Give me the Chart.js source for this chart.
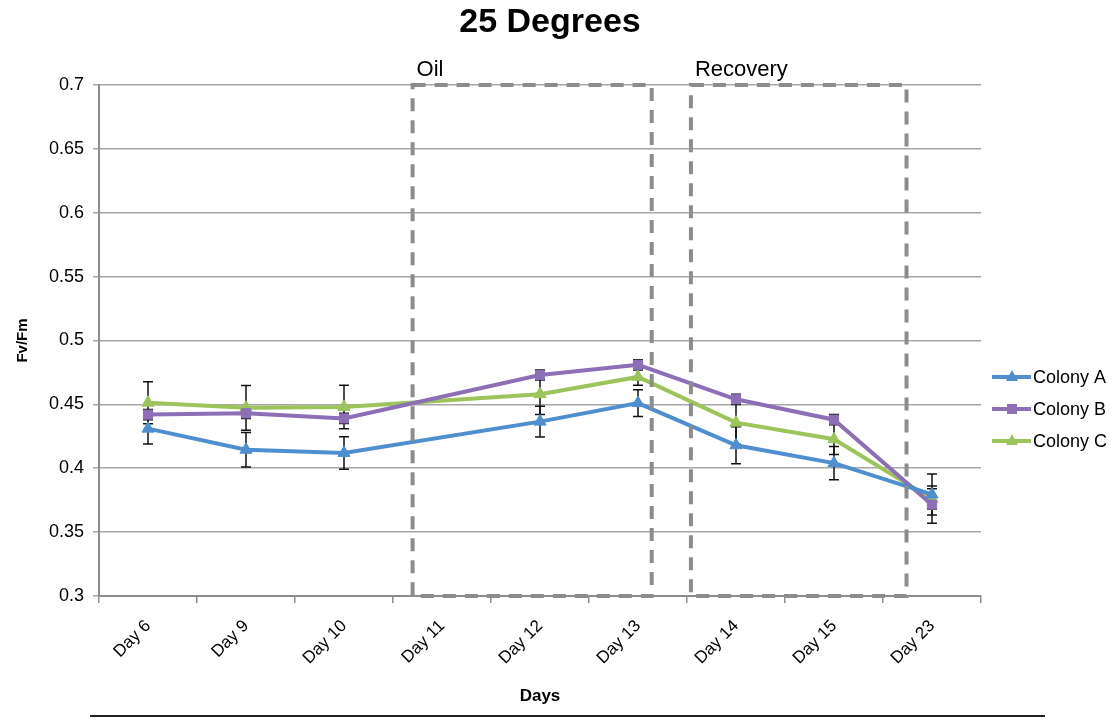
<!DOCTYPE html>
<html>
<head>
<meta charset="utf-8">
<title>25 Degrees</title>
<script src="https://cdn.jsdelivr.net/npm/chart.js@4/dist/chart.umd.min.js"></script>
<style>
  html, body { margin: 0; padding: 0; background: #fff; }
  #wrap { width: 1120px; height: 719px; }
</style>
</head>
<body>
<div id="wrap"><canvas id="fvChart" width="1120" height="719"></canvas></div>
<script>
// data
const days = ['Day 6', 'Day 9', 'Day 10', 'Day 11', 'Day 12', 'Day 13', 'Day 14', 'Day 15', 'Day 23']
const colonyA = [0.431, 0.4145, 0.412, null, 0.4365, 0.451, 0.418, 0.404, 0.3795]
const colonyB = [0.442, 0.443, 0.439, null, 0.473, 0.481, 0.454, 0.438, 0.3715]
const colonyC = [0.4513, 0.4473, 0.448, null, 0.458, 0.4715, 0.4357, 0.4227, 0.376]
const errA = [0.012, 0.0135, 0.0127, null, 0.012, 0.0105, 0.0145, 0.013, 0.016]
const errB = [0.004, 0.004, 0.004, null, 0.004, 0.004, 0.004, 0.004, 0.0146]
const errC = [0.0165, 0.0175, 0.017, null, 0.016, 0.0066, 0.017, 0.012, 0.008]
const yTicks = [0.3, 0.35, 0.4, 0.45, 0.5, 0.55, 0.6, 0.65, 0.7]
// dashed phase boxes, in category index units
const phases = [
    { label: 'Oil', from: 2.7, to: 5.14 },
    { label: 'Recovery', from: 5.54, to: 7.74 }
]

const FONT = "'Liberation Sans', Arial, sans-serif"

const series = [
    { label: 'Colony A', data: colonyA, err: errA, color: '#4f8fcf', style: 'triangle', radius: 7 },
    { label: 'Colony B', data: colonyB, err: errB, color: '#8d6fb5', style: 'rect', radius: 6.5 },
    { label: 'Colony C', data: colonyC, err: errC, color: '#9cc45b', style: 'triangle', radius: 7 }
]

// error bars, dashed boxes, title, legend
const decor = {
    id: 'decor',
    beforeDatasetsDraw(chart) {
        const ctx = chart.ctx
        const x = chart.scales.x
        const y = chart.scales.y
        ctx.save()
        ctx.strokeStyle = '#111'
        ctx.lineWidth = 1.5
        series.forEach(s => {
            s.data.forEach((v, i) => {
                if (v === null || s.err[i] === null) return
                const px = x.getPixelForValue(i)
                const top = y.getPixelForValue(v + s.err[i])
                const bot = y.getPixelForValue(v - s.err[i])
                ctx.beginPath()
                ctx.moveTo(px, top); ctx.lineTo(px, bot)
                ctx.moveTo(px - 5, top); ctx.lineTo(px + 5, top)
                ctx.moveTo(px - 5, bot); ctx.lineTo(px + 5, bot)
                ctx.stroke()
            })
        })
        ctx.restore()
    },
    afterDatasetsDraw(chart) {
        const ctx = chart.ctx
        const x = chart.scales.x
        const y = chart.scales.y
        ctx.save()
        ctx.strokeStyle = '#8c8c8c'
        ctx.lineWidth = 4
        ctx.setLineDash([13, 9])
        ctx.font = '22px ' + FONT
        ctx.fillStyle = '#000'
        ctx.textBaseline = 'bottom'
        phases.forEach(p => {
            const l = x.getPixelForValue(p.from)
            const r = x.getPixelForValue(p.to)
            const t = y.getPixelForValue(y.max)
            const b = y.getPixelForValue(y.min)
            ctx.strokeRect(l, t, r - l, b - t)
            ctx.fillText(p.label, l + 4, t - 4)
        })
        ctx.restore()
    },
    afterDraw(chart) {
        const ctx = chart.ctx
        const area = chart.chartArea
        ctx.save()
        // title
        ctx.fillStyle = '#000'
        ctx.font = 'bold 34px ' + FONT
        ctx.textAlign = 'center'
        ctx.textBaseline = 'middle'
        ctx.fillText('25 Degrees', 550, 23)
        // legend
        ctx.font = '18px ' + FONT
        ctx.textAlign = 'left'
        series.forEach((s, i) => {
            const ly = 377 + i * 32
            const lx = area.right + 11
            ctx.strokeStyle = s.color
            ctx.lineWidth = 4
            ctx.beginPath()
            ctx.moveTo(lx, ly); ctx.lineTo(lx + 39, ly)
            ctx.stroke()
            ctx.fillStyle = s.color
            const mx = lx + 20
            ctx.beginPath()
            if (s.style === 'rect') {
                ctx.rect(mx - 5, ly - 5, 10, 10)
            } else {
                ctx.moveTo(mx, ly - 7); ctx.lineTo(mx + 6, ly + 4); ctx.lineTo(mx - 6, ly + 4)
                ctx.closePath()
            }
            ctx.fill()
            ctx.fillStyle = '#000'
            ctx.fillText(s.label, lx + 41, ly + 1)
        })
        // rule under the chart
        ctx.strokeStyle = '#222'
        ctx.lineWidth = 2
        ctx.beginPath()
        ctx.moveTo(90, 716); ctx.lineTo(1045, 716)
        ctx.stroke()
        ctx.restore()
    }
}

const ctx = document.getElementById('fvChart').getContext('2d')
const fvChart = new Chart(ctx, {
    type: 'line',
    data: {
        labels: days,
        datasets: series.map(s => ({
            label: s.label,
            data: s.data,
            borderColor: s.color,
            backgroundColor: s.color,
            borderWidth: 4,
            pointStyle: s.style,
            pointRadius: s.radius,
            pointBorderWidth: 1,
            spanGaps: true,
            tension: 0
        }))
    },
    options: {
        responsive: false,
        animation: false,
        layout: { padding: { top: 85, right: 139, left: 0, bottom: 0 } },
        plugins: {
            legend: { display: false },
            title: { display: false },
            tooltip: { enabled: false }
        },
        scales: {
            x: {
                offset: true,
                grid: { offset: true, drawOnChartArea: false, tickLength: 7, color: '#8c8c8c', lineWidth: 1.5 },
                border: { color: '#8c8c8c', width: 2 },
                ticks: { minRotation: 45, maxRotation: 45, color: '#000', padding: 13, font: { family: FONT, size: 17 } },
                title: { display: true, text: 'Days', color: '#000', font: { family: FONT, size: 17, weight: 'bold' }, padding: { top: 0, bottom: 12 } },
                afterFit: s => { s.height = 123 }
            },
            y: {
                min: yTicks[0],
                max: yTicks[yTicks.length - 1],
                afterBuildTicks: s => { s.ticks = yTicks.map(v => ({ value: v })) },
                grid: { color: '#a6a6a6', lineWidth: 1.5, tickLength: 6 },
                border: { color: '#8c8c8c', width: 2 },
                ticks: { color: '#000', padding: 9, font: { family: FONT, size: 18 }, callback: v => String(Math.round(v * 100) / 100) },
                title: { display: true, text: 'Fv/Fm', color: '#000', font: { family: FONT, size: 15, weight: 'bold' }, padding: { top: 14, bottom: 0 } },
                afterFit: s => { s.width = 99 }
            }
        }
    },
    plugins: [decor]
})
</script>
</body>
</html>
